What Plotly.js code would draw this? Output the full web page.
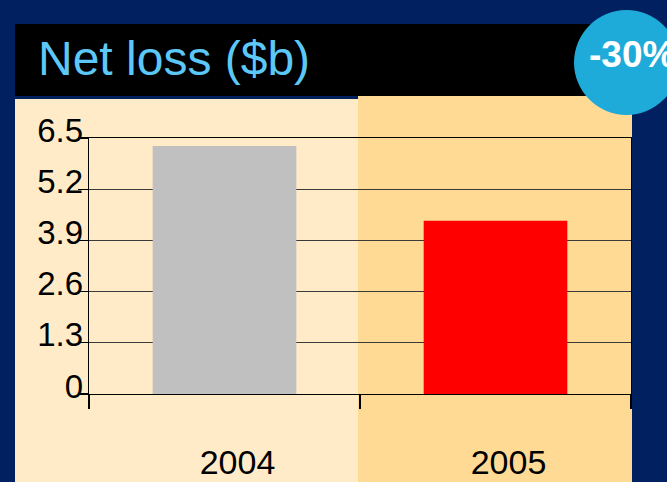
<!DOCTYPE html>
<html>
<head>
<meta charset="utf-8">
<script src="https://cdn.plot.ly/plotly-3.0.1.min.js"></script>
<style>html,body{margin:0;padding:0;background:#002060;}#chart{width:667px;height:482px;}</style>
</head>
<body>
<div id="chart"></div>
<script>
// ---- data ----
const categories = ["2004", "2005"];
const netLoss = [6.3, 4.4];
const barColors = ["#C0C0C0", "#FF0000"];
const yTickVals = [0, 1.3, 2.6, 3.9, 5.2, 6.5];
const yTickText = ["0", "1.3", "2.6", "3.9", "5.2", "6.5"];
const chartTitle = "Net loss ($b)";
const changeLabel = "-30%";

// ---- layout helpers (pixel -> paper) ----
const W = 667, H = 482;
const M = {l: 89, r: 36, t: 138, b: 88};
const PW = W - M.l - M.r, PH = H - M.t - M.b;
const X = px => (px - M.l) / PW;
const Y = py => (H - M.b - py) / PH;

const font = "Liberation Sans, Arial, sans-serif";

const trace = {
  type: "bar",
  x: categories,
  y: netLoss,
  marker: {color: barColors, line: {width: 0}},
  hoverinfo: "skip"
};

const layout = {
  width: W, height: H,
  margin: M,
  paper_bgcolor: "#002060",
  plot_bgcolor: "rgba(0,0,0,0)",
  showlegend: false,
  bargap: 0.47,
  font: {family: font, color: "#000"},
  xaxis: {
    type: "category",
    showgrid: false,
    showline: true, linecolor: "#000", linewidth: 1.3,
    mirror: true,
    ticks: "outside", tickson: "boundaries", ticklen: 14, tickcolor: "#000", tickwidth: 1.3,
    tickfont: {size: 34, color: "#000", family: font},
    ticklabelshift: 13,
    ticklabelstandoff: 38,
    fixedrange: true
  },
  yaxis: {
    range: [0, 6.5],
    tickvals: yTickVals, ticktext: yTickText,
    showgrid: true, gridcolor: "#3a3a3a", gridwidth: 1.3,
    zeroline: false,
    showline: true, linecolor: "#000", linewidth: 1.3,
    mirror: true,
    ticks: "outside", ticklen: 10, tickcolor: "#000", tickwidth: 1.2,
    tickfont: {size: 33, color: "#000", family: font},
    ticklabelshift: -8,
    ticklabelstandoff: -12,
    fixedrange: true
  },
  shapes: [
    {type: "rect", xref: "paper", yref: "paper", layer: "below",
     x0: X(15), x1: X(632), y0: Y(24), y1: Y(96), fillcolor: "#000000", line: {width: 0}},
    {type: "rect", xref: "paper", yref: "paper", layer: "below",
     x0: X(15), x1: X(358), y0: Y(99), y1: Y(482), fillcolor: "#FFEBC7", line: {width: 0}},
    {type: "rect", xref: "paper", yref: "paper", layer: "below",
     x0: X(358), x1: X(632), y0: Y(96), y1: Y(482), fillcolor: "#FFDA95", line: {width: 0}},
    {type: "circle", xref: "paper", yref: "paper", layer: "above",
     x0: X(574), x1: X(679), y0: Y(10), y1: Y(115), fillcolor: "#1FABD9", line: {width: 0}}
  ],
  annotations: [
    {xref: "paper", yref: "paper", x: X(36), y: Y(58), xanchor: "left", yanchor: "middle",
     text: chartTitle, showarrow: false, font: {size: 48, color: "#5CC8F7", family: font}},
    {xref: "paper", yref: "paper", x: X(587), y: Y(54), xanchor: "left", yanchor: "middle",
     text: "<b>" + changeLabel + "</b>", showarrow: false, font: {size: 37, color: "#FFFFFF", family: font}}
  ]
};

Plotly.newPlot("chart", [trace], layout, {displayModeBar: false, staticPlot: true});
</script>
</body>
</html>
